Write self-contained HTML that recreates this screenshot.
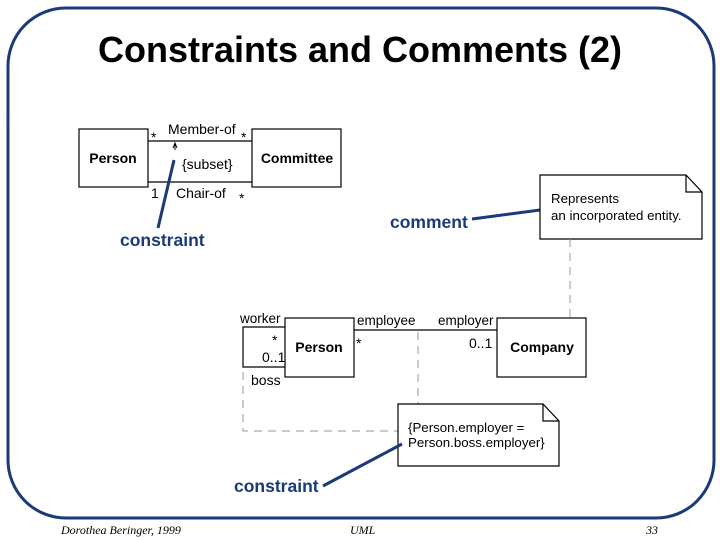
<!DOCTYPE html>
<html><head><style>html,body{margin:0;padding:0;background:#fff}svg{display:block}</style></head>
<body>
<svg width="720" height="540" viewBox="0 0 720 540" xmlns="http://www.w3.org/2000/svg" font-family="Liberation Sans, Arial, sans-serif">
<rect x="8" y="8" width="706" height="510" rx="58" ry="58" fill="none" stroke="#1b3a7a" stroke-width="3"/>
<text x="360" y="62" text-anchor="middle" font-size="36" font-weight="bold" fill="#000">Constraints and Comments (2)</text>

<g stroke="#000" stroke-width="1.2" fill="#fff">
<rect x="79" y="129" width="69" height="58"/>
<rect x="252" y="129" width="89" height="58"/>
<line x1="148" y1="141" x2="252" y2="141"/>
<line x1="148" y1="182" x2="252" y2="182"/>
</g>
<g font-size="14" fill="#000">
<text x="113" y="163" text-anchor="middle" font-weight="bold">Person</text>
<text x="297" y="163" text-anchor="middle" font-weight="bold">Committee</text>
<text x="168" y="134">Member-of</text>
<text x="182" y="169">{subset}</text>
<text x="176" y="198">Chair-of</text>
<text x="151" y="198">1</text>
<text x="151" y="142">*</text>
<text x="241" y="142">*</text>
<text x="239" y="203">*</text>
</g>
<line x1="175" y1="144" x2="175" y2="150" stroke="#000"/>
<path d="M173 148 L175 143 L177 148" fill="none" stroke="#000"/>
<line x1="158" y1="228" x2="174" y2="160" stroke="#1b3a7a" stroke-width="3"/>
<text x="120" y="246" font-size="17.5" font-weight="bold" fill="#1b3a7a">constraint</text>

<text x="390" y="228" font-size="17.5" font-weight="bold" fill="#1b3a7a">comment</text>
<line x1="472" y1="219" x2="540" y2="210" stroke="#1b3a7a" stroke-width="3"/>
<path d="M540 175 L686 175 L702 192 L702 239 L540 239 Z M686 175 L686 192 L702 192" fill="#fff" stroke="#000" stroke-width="1.2"/>
<text x="551" y="203" font-size="13.3" fill="#000">Represents</text>
<text x="551" y="220" font-size="13.3" fill="#000">an incorporated entity.</text>
<line x1="570" y1="239" x2="570" y2="318" stroke="#999" stroke-dasharray="8,6"/>

<g stroke="#000" stroke-width="1.2" fill="#fff">
<rect x="285" y="318" width="69" height="59"/>
<rect x="497" y="318" width="89" height="59"/>
<line x1="354" y1="330" x2="497" y2="330"/>
<polyline points="285,327 243,327 243,367 285,367" fill="none"/>
</g>
<g stroke="#999" fill="none" stroke-dasharray="8,6">
<line x1="418" y1="332" x2="418" y2="404"/>
<polyline points="243,372 243,431 398,431"/>
</g>
<g font-size="14" fill="#000">
<text x="319" y="352" text-anchor="middle" font-weight="bold">Person</text>
<text x="542" y="352" text-anchor="middle" font-weight="bold">Company</text>
<text x="240" y="323" font-size="13.5">worker</text>
<text x="357" y="325" font-size="13.5">employee</text>
<text x="438" y="325" font-size="13.5">employer</text>
<text x="469" y="348">0..1</text>
<text x="272" y="345">*</text>
<text x="356" y="348">*</text>
<text x="262" y="362">0..1</text>
<text x="251" y="385">boss</text>
</g>
<path d="M398 404 L543 404 L559 421 L559 466 L398 466 Z M543 404 L543 421 L559 421" fill="#fff" stroke="#000" stroke-width="1.2"/>
<text x="408" y="432" font-size="13.3" fill="#000">{Person.employer =</text>
<text x="408" y="447" font-size="13.3" fill="#000">Person.boss.employer}</text>
<line x1="323" y1="486" x2="402" y2="444" stroke="#1b3a7a" stroke-width="3"/>
<text x="234" y="492" font-size="17.5" font-weight="bold" fill="#1b3a7a">constraint</text>

<g font-family="Liberation Serif, serif" font-style="italic" font-size="12" fill="#000">
<text x="61" y="534">Dorothea Beringer, 1999</text>
<text x="350" y="534">UML</text>
<text x="646" y="534">33</text>
</g>
</svg>
</body></html>
